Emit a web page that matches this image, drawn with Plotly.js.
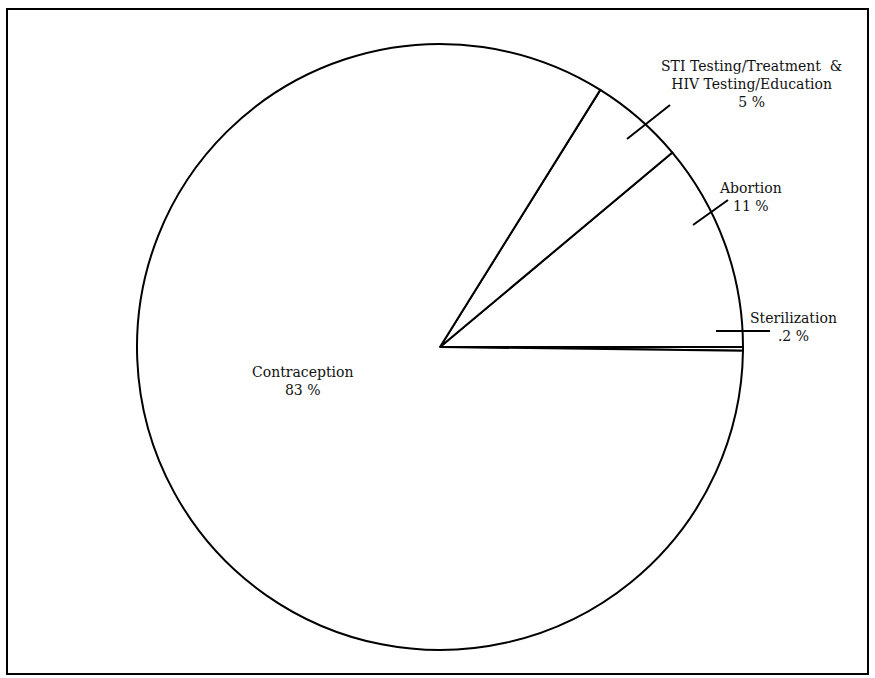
<!DOCTYPE html>
<html>
<head>
<meta charset="utf-8">
<script src="https://cdn.plot.ly/plotly-3.0.1.min.js"></script>
<style>html,body{margin:0;padding:0;background:#fff;}#chart{width:875px;height:678px;}</style>
</head>
<body>
<div id="chart"></div>
<script>
// Data (order: counterclockwise from 3 o'clock)
const categories = ["Sterilization", "Abortion", "STI Testing/Treatment  &<br>HIV Testing/Education", "Contraception"];
const percents = [0.2, 11, 5, 83];
const percentLabels = [".2 %", "11 %", "5 %", "83 %"];

const W = 875, H = 678;
const px = x => x / W;
const py = y => 1 - y / H;

// label placement (pixels)
const labelPos = [
  {x: 793, y: 327},
  {x: 750, y: 197},
  {x: 751, y: 84},
  {x: 302, y: 381}
];

const annotations = categories.map((c, i) => ({
  xref: "paper", yref: "paper",
  x: px(labelPos[i].x), y: py(labelPos[i].y),
  xanchor: "center", yanchor: "middle",
  text: c + "<br>" + percentLabels[i],
  showarrow: false,
  align: "center",
  font: {family: "DejaVu Serif, serif", size: 14, color: "#111"}
}));

// leader ticks (pixels)
const ticks = [
  [716, 331, 770, 331],
  [693, 225, 728, 200],
  [627, 139, 670, 105]
];
const shapes = ticks.map(t => ({
  type: "line", xref: "paper", yref: "paper",
  x0: px(t[0]), y0: py(t[1]), x1: px(t[2]), y1: py(t[3]),
  line: {color: "#000", width: 2}
}));
shapes.push({
  type: "rect", xref: "paper", yref: "paper",
  x0: px(7), y0: py(674), x1: px(868), y1: py(9),
  line: {color: "#000", width: 2}
});

const cx = 440, cy = 347, r = 303;
const trace = {
  type: "pie",
  labels: categories,
  values: percents,
  sort: false,
  direction: "counterclockwise",
  rotation: 90,
  textinfo: "none",
  hoverinfo: "label+percent",
  marker: {colors: categories.map(() => "#ffffff"), line: {color: "#000", width: 2}},
  domain: {x: [px(cx - r), px(cx + r)], y: [py(cy + r), py(cy - r)]},
  showlegend: false
};

Plotly.newPlot("chart", [trace], {
  width: W, height: H,
  margin: {l: 0, r: 0, t: 0, b: 0},
  paper_bgcolor: "#fff",
  plot_bgcolor: "#fff",
  annotations: annotations,
  shapes: shapes,
  showlegend: false
}, {displayModeBar: false, staticPlot: true});
</script>
</body>
</html>
